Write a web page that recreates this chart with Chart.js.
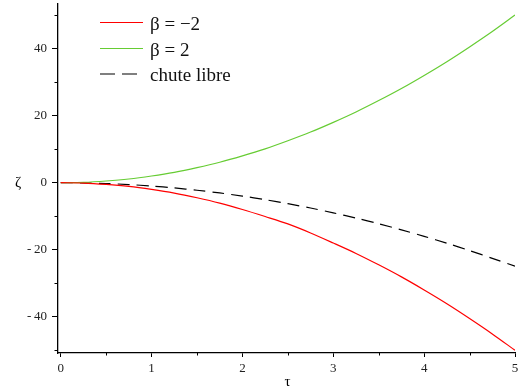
<!DOCTYPE html>
<html>
<head>
<meta charset="utf-8">
<script src="https://cdn.jsdelivr.net/npm/chart.js@4"></script>
<style>
html,body{margin:0;padding:0;background:#fff;}
#wrap{width:521px;height:392px;}
</style>
</head>
<body>
<div id="wrap"><canvas id="c" width="521" height="392"></canvas></div>
<script>
const tau = [0,0.25,0.5,0.75,1,1.25,1.5,1.75,2,2.25,2.5,2.75,3,3.25,3.5,3.75,4,4.25,4.5,4.75,5];
const betaMinus2 = [0,-0.1,-0.5,-1.1,-2,-3.1,-4.5,-6.1,-8,-10.1,-12.3,-15,-18,-21.1,-24.5,-28.1,-32,-36.1,-40.5,-45.1,-50];
const betaPlus2 = [0,0.1,0.5,1.1,2,3.1,4.5,6.1,8,10.1,12.5,15.1,18,21.1,24.5,28.1,32,36.1,40.5,45.1,50];
const chuteLibre = [0,-0.06,-0.25,-0.56,-1,-1.56,-2.25,-3.06,-4,-5.06,-6.25,-7.56,-9,-10.56,-12.25,-14.06,-16,-18.06,-20.25,-22.56,-24.9];
const xTicks = [0,1,2,3,4,5];
const xMinor = [0.5,1.5,2.5,3.5,4.5];
const yTicks = [-40,-20,0,20,40];
const yMinor = [-50,-30,-10,10,30,50];
const legendLabels = ['β = −2','β = 2','chute libre'];
const xTitle = 'τ';
const yTitle = 'ζ';

const FONT = '"Liberation Serif", "DejaVu Serif", serif';
const RED = '#ff0000', GREEN = 'rgb(102,204,51)', BLACK = '#000000';
const pts = arr => tau.map((t,i)=>({x:t,y:arr[i]}));

const extras = {
  id:'extras',
  afterDraw(chart){
    const ctx = chart.ctx, xs = chart.scales.x, ys = chart.scales.y, ca = chart.chartArea;
    ctx.save();
    ctx.strokeStyle = '#000'; ctx.lineWidth = 1;
    xMinor.forEach(v=>{ const p = Math.round(xs.getPixelForValue(v))+0.5; ctx.beginPath(); ctx.moveTo(p, ca.bottom); ctx.lineTo(p, ca.bottom+2.5); ctx.stroke(); });
    yMinor.forEach(v=>{ const p = Math.round(ys.getPixelForValue(v))+0.5; ctx.beginPath(); ctx.moveTo(ca.left-3.5, p); ctx.lineTo(ca.left, p); ctx.stroke(); });
    // titles
    ctx.fillStyle = '#000';
    ctx.font = '15px ' + FONT;
    ctx.textAlign = 'center'; ctx.textBaseline = 'middle';
    ctx.fillText(yTitle, 18, ys.getPixelForValue(0));
    ctx.fillText(xTitle, (ca.left+ca.right)/2 + 1, 382);
    // legend
    const cols = [RED, GREEN, BLACK];
    const dashes = [[],[],[15,7]];
    const ly = [22.5, 48.5, 74];
    ctx.font = '19px ' + FONT;
    ctx.textAlign = 'left'; ctx.textBaseline = 'alphabetic';
    for (let i=0;i<3;i++){
      ctx.strokeStyle = cols[i]; ctx.lineWidth = 1.2; ctx.setLineDash(dashes[i]);
      ctx.beginPath(); ctx.moveTo(100, ly[i]); ctx.lineTo(143, ly[i]); ctx.stroke();
      ctx.setLineDash([]);
      ctx.fillStyle = '#111';
      ctx.fillText(legendLabels[i], 150, ly[i]+7);
    }
    ctx.restore();
  }
};

const noPad = s => { s.paddingTop = 0; s.paddingBottom = 0; s.paddingLeft = 0; s.paddingRight = 0; };

new Chart(document.getElementById('c'), {
  type:'line',
  data:{ datasets:[
    {label:legendLabels[0], data:pts(betaMinus2), borderColor:RED, borderWidth:1.2, pointRadius:0, tension:0.3, fill:false},
    {label:legendLabels[1], data:pts(betaPlus2), borderColor:GREEN, borderWidth:1.2, pointRadius:0, tension:0.3, fill:false},
    {label:legendLabels[2], data:pts(chuteLibre), borderColor:BLACK, borderWidth:1.2, borderDash:[12,7], pointRadius:0, tension:0.3, fill:false}
  ]},
  options:{
    responsive:false, animation:false, devicePixelRatio:1,
    layout:{padding:{left:0,right:6,top:4,bottom:0}},
    plugins:{legend:{display:false}, tooltip:{enabled:false}},
    scales:{
      x:{ type:'linear', min:-0.03, max:5,
        afterBuildTicks: s => { s.ticks = xTicks.map(v=>({value:v})); },
        afterFit: s => { s.height = 39; noPad(s); },
        ticks:{ color:'#222', font:{family:FONT,size:13}, padding:4, maxRotation:0, autoSkip:false, callback:v=>String(v) },
        grid:{ drawOnChartArea:false, drawTicks:true, tickLength:4, color:'#000' },
        border:{ display:true, color:'#000', width:1.3 }
      },
      y:{ type:'linear', min:-50.8, max:53.3,
        afterBuildTicks: s => { s.ticks = yTicks.map(v=>({value:v})); },
        afterFit: s => { s.width = 58; noPad(s); },
        ticks:{ color:'#222', font:{family:FONT,size:13}, padding:5, autoSkip:false, callback:v=> v<0 ? '-\u2009'+Math.abs(v) : String(v) },
        grid:{ drawOnChartArea:false, drawTicks:true, tickLength:6, color:'#000' },
        border:{ display:true, color:'#000', width:1.3 }
      }
    }
  },
  plugins:[extras]
});
</script>
</body>
</html>
